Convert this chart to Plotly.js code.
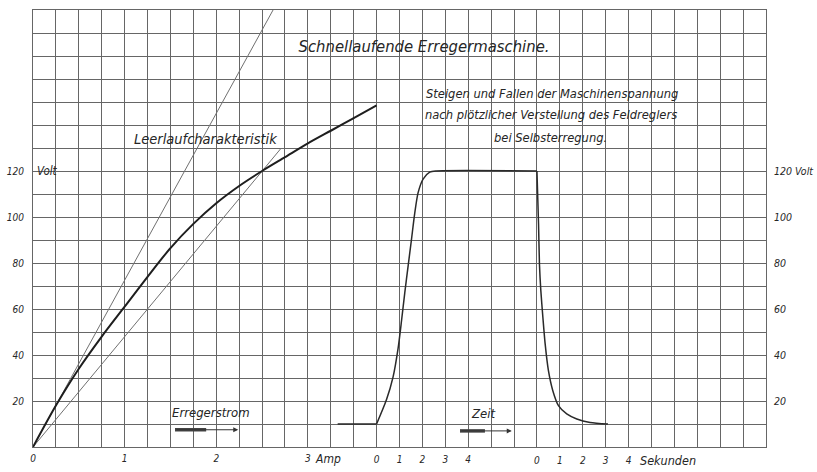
<!DOCTYPE html>
<html>
<head>
<meta charset="utf-8">
<script src="https://cdn.plot.ly/plotly-3.0.1.min.js"></script>
<style>
html,body{margin:0;padding:0;background:#ffffff;}
#chart{width:817px;height:472px;}
</style>
</head>
<body>
<div id="chart"></div>
<script>
// ---- Tick labels ----
const ampTicks = [0, 1, 2, 3];
const voltTicks = [20, 40, 60, 80, 100, 120];
const voltTickTextLeft = ['20', '40', '60', '80', '100', '120'];
const voltTickTextRight = ['20', '40', '60', '80', '100', '120 Volt'];
const timeTicks = [0, 1, 2, 3, 4];

// ---- Leerlaufcharakteristik (Erregerstrom [A] -> Spannung [V]) ----
const leerlaufAmp  = [0, 0.25, 0.5, 0.75, 1.0, 1.25, 1.5, 1.75, 2.0, 2.25, 2.5, 2.75, 3.0, 3.25, 3.5, 3.75];
const leerlaufVolt = [0, 18, 34, 48, 61, 74, 86.5, 97, 106, 113.5, 120, 126, 132, 137.5, 143, 148.5];

// ---- Tangente im Ursprung ----
const tangenteAmp  = [0, 2.62];
const tangenteVolt = [0, 190];

// ---- Widerstandsgerade ----
const widerstandAmp  = [0, 2.71];
const widerstandVolt = [0, 130];

// ---- Steigen der Maschinenspannung (Zeit [s] -> Spannung [V]) ----
const ruheSek  = [-1.7, 0];
const ruheVolt = [10, 10];
const steigenSek  = [0, 0.43, 0.72, 0.94, 1.09, 1.23, 1.38, 1.52, 1.67, 1.81, 2.03, 2.32, 2.6, 7];
const steigenVolt = [10, 20.5, 30.5, 43, 55, 67, 79, 90, 102, 110.5, 116.5, 119.5, 120, 120];

// ---- Fallen der Maschinenspannung ----
const fallenSek  = [0, 0.07, 0.11, 0.17, 0.26, 0.36, 0.5, 0.69, 0.94, 1.3, 1.74, 2.32, 3.1];
const fallenVolt = [120, 97, 79.5, 68, 56.3, 44.7, 33.3, 24.6, 18, 14.4, 12.2, 10.7, 10];

// ---- styling ----
const FAM = '"DejaVu Sans Condensed", "DejaVu Sans", sans-serif';
const INK = '#262626';
const GRID = '#666666';
const tickFont = {family: FAM, size: 10, color: INK, style: 'italic'};

const traces = [
  {x: tangenteAmp, y: tangenteVolt, xaxis: 'x', yaxis: 'y', mode: 'lines',
   line: {color: '#707070', width: 1}, hoverinfo: 'skip'},
  {x: widerstandAmp, y: widerstandVolt, xaxis: 'x', yaxis: 'y', mode: 'lines',
   line: {color: '#707070', width: 1}, hoverinfo: 'skip'},
  {x: leerlaufAmp, y: leerlaufVolt, xaxis: 'x', yaxis: 'y', mode: 'lines',
   line: {color: '#1e1e1e', width: 2, shape: 'spline', smoothing: 0.8}, hoverinfo: 'skip'},
  {x: ruheSek, y: ruheVolt, xaxis: 'x3', yaxis: 'y', mode: 'lines',
   line: {color: '#2a2a2a', width: 1.5}, hoverinfo: 'skip'},
  {x: steigenSek, y: steigenVolt, xaxis: 'x3', yaxis: 'y', mode: 'lines',
   line: {color: '#2a2a2a', width: 1.5, shape: 'spline', smoothing: 0.7}, hoverinfo: 'skip'},
  {x: fallenSek, y: fallenVolt, xaxis: 'x4', yaxis: 'y', mode: 'lines',
   line: {color: '#2a2a2a', width: 1.5, shape: 'spline', smoothing: 0.7}, hoverinfo: 'skip'},
  // empty helper traces so that the label-only axes (left and right volt scales) are drawn
  {x: [], y: [], xaxis: 'x', yaxis: 'y2', mode: 'lines', hoverinfo: 'skip'},
  {x: [], y: [], xaxis: 'x', yaxis: 'y3', mode: 'lines', hoverinfo: 'skip'}
];

const CELLS = 32;          // grid cells across
const AMP_PER_CELL = 0.25; // 4 cells per Ampere
const RISE_ZERO = 15;      // cell of first time origin
const FALL_ZERO = 22;      // cell of second time origin

const baseAxis = {zeroline: false, showgrid: false, ticks: '', fixedrange: true};

const layout = {
  width: 817, height: 472,
  margin: {l: 33, r: 51, t: 10, b: 25, pad: 0},
  paper_bgcolor: '#ffffff', plot_bgcolor: '#ffffff',
  showlegend: false,
  title: {
    text: 'Schnellaufende Erregermaschine.',
    font: {family: FAM, size: 16.5, color: INK, style: 'italic'},
    x: 424 / 817, xref: 'container', xanchor: 'center',
    y: 1 - 46 / 472, yref: 'container', yanchor: 'middle'
  },
  xaxis: Object.assign({}, baseAxis, {
    range: [0, CELLS * AMP_PER_CELL], tickmode: 'linear', tick0: 0, dtick: AMP_PER_CELL,
    showgrid: true, gridcolor: GRID, gridwidth: 1, showticklabels: false,
    showline: true, mirror: true, linecolor: GRID, linewidth: 1
  }),
  xaxis2: Object.assign({}, baseAxis, {
    overlaying: 'x', anchor: 'y', side: 'bottom',
    range: [0, CELLS * AMP_PER_CELL], tickmode: 'array',
    tickvals: ampTicks, ticktext: ampTicks.map(String), tickfont: tickFont, ticklabelstandoff: 4
  }),
  xaxis3: Object.assign({}, baseAxis, {
    overlaying: 'x', anchor: 'y', side: 'bottom',
    range: [-RISE_ZERO, CELLS - RISE_ZERO], tickmode: 'array',
    tickvals: timeTicks, ticktext: timeTicks.map(String), tickfont: tickFont, ticklabelstandoff: 5
  }),
  xaxis4: Object.assign({}, baseAxis, {
    overlaying: 'x', anchor: 'y', side: 'bottom',
    range: [-FALL_ZERO, CELLS - FALL_ZERO], tickmode: 'array',
    tickvals: timeTicks, ticktext: timeTicks.map(String), tickfont: tickFont, ticklabelstandoff: 6
  }),
  yaxis: Object.assign({}, baseAxis, {
    range: [0, 190], tickmode: 'linear', tick0: 0, dtick: 10,
    showgrid: true, gridcolor: GRID, gridwidth: 1, showticklabels: false,
    showline: true, mirror: true, linecolor: GRID, linewidth: 1
  }),
  yaxis2: Object.assign({}, baseAxis, {
    overlaying: 'y', anchor: 'x', side: 'left', range: [0, 190], tickmode: 'array',
    tickvals: voltTicks, ticktext: voltTickTextLeft, tickfont: tickFont, ticklabelstandoff: 8
  }),
  yaxis3: Object.assign({}, baseAxis, {
    overlaying: 'y', anchor: 'x', side: 'right', range: [0, 190], tickmode: 'array',
    tickvals: voltTicks, ticktext: voltTickTextRight,
    tickfont: {family: FAM, size: 10.5, color: INK, style: 'italic'}, ticklabelstandoff: 7
  }),
  annotations: [
    {text: 'Volt', xref: 'x', yref: 'y', x: 0, y: 120, xanchor: 'left', yanchor: 'middle', xshift: 2,
     showarrow: false, font: {family: FAM, size: 11.5, color: INK, style: 'italic'}},
    {text: 'Amp', xref: 'x2', yref: 'paper', x: 3, y: 0, xanchor: 'left', yanchor: 'top', xshift: 5, yshift: -3,
     showarrow: false, font: {family: FAM, size: 12, color: INK, style: 'italic'}},
    {text: 'Sekunden', xref: 'x4', yref: 'paper', x: 4, y: 0, xanchor: 'left', yanchor: 'top', xshift: 9, yshift: -4,
     showarrow: false, font: {family: FAM, size: 12.5, color: INK, style: 'italic'}},
    {text: 'Leerlaufcharakteristik', xref: 'x', yref: 'y', x: 1.88, y: 133.8, xanchor: 'center', yanchor: 'middle',
     showarrow: false, font: {family: FAM, size: 14.5, color: INK, style: 'italic'}},
    {text: 'Erregerstrom', xref: 'x', yref: 'y', x: 1.94, y: 15, xanchor: 'center', yanchor: 'middle',
     showarrow: false, font: {family: FAM, size: 13, color: INK, style: 'italic'}},
    {text: '', xref: 'x', yref: 'y', axref: 'x', ayref: 'y', x: 2.24, y: 7.5, ax: 1.55, ay: 7.5,
     showarrow: true, arrowhead: 2, arrowsize: 1, arrowwidth: 1, arrowcolor: '#333'},
    {text: 'Zeit', xref: 'x3', yref: 'y', x: 4.65, y: 14.5, xanchor: 'center', yanchor: 'middle',
     showarrow: false, font: {family: FAM, size: 13, color: INK, style: 'italic'}},
    {text: '', xref: 'x3', yref: 'y', axref: 'x3', ayref: 'y', x: 5.9, y: 7, ax: 3.64, ay: 7,
     showarrow: true, arrowhead: 2, arrowsize: 1, arrowwidth: 1, arrowcolor: '#333'},
    {text: 'Steigen und Fallen der Maschinenspannung', xref: 'x3', yref: 'y', x: 7.66, y: 153.5,
     xanchor: 'center', yanchor: 'middle', showarrow: false,
     font: {family: FAM, size: 12.8, color: INK, style: 'italic'}},
    {text: 'nach plötzlicher Verstellung des Feldreglers', xref: 'x3', yref: 'y', x: 7.6, y: 144.4,
     xanchor: 'center', yanchor: 'middle', showarrow: false,
     font: {family: FAM, size: 12.8, color: INK, style: 'italic'}},
    {text: 'bei Selbsterregung.', xref: 'x3', yref: 'y', x: 7.6, y: 134.4,
     xanchor: 'center', yanchor: 'middle', showarrow: false,
     font: {family: FAM, size: 12.8, color: INK, style: 'italic'}}
  ],
  shapes: [
    {type: 'line', xref: 'x', yref: 'y', x0: 1.55, x1: 1.89, y0: 7.5, y1: 7.5,
     line: {color: '#444', width: 3.5}},
    {type: 'line', xref: 'x3', yref: 'y', x0: 3.64, x1: 4.73, y0: 7, y1: 7,
     line: {color: '#444', width: 3.5}}
  ]
};

Plotly.newPlot('chart', traces, layout, {staticPlot: true, displayModeBar: false});
</script>
</body>
</html>
